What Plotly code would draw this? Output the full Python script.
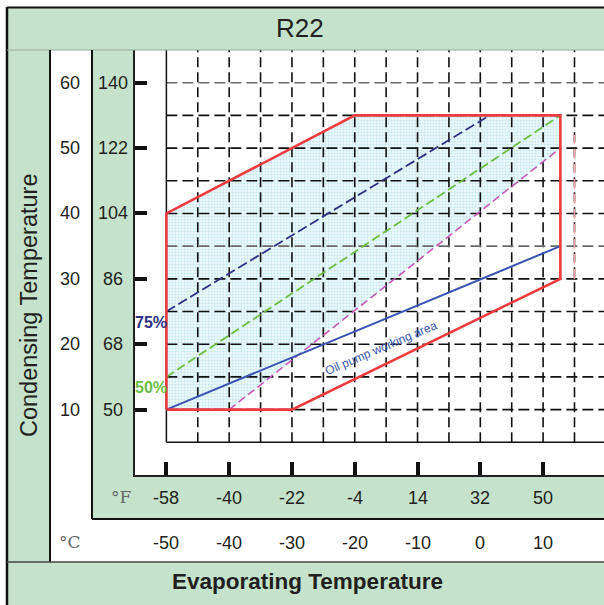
import plotly.graph_objects as go

W, H = 604, 605
FONT = "Liberation Sans, Arial, sans-serif"
TXT = "#231f20"
GREEN = "#c5e3cc"

# ---------------- data ----------------
evap_c_ticks = [-50, -40, -30, -20, -10, 0, 10]
evap_c_labels = ["-50", "-40", "-30", "-20", "-10", "0", "10"]
evap_f_labels = ["-58", "-40", "-22", "-4", "14", "32", "50"]
cond_c_ticks = [60, 50, 40, 30, 20, 10]
cond_c_labels = ["60", "50", "40", "30", "20", "10"]
cond_f_labels = ["140", "122", "104", "86", "68", "50"]

# operating envelope (red)
env_x = [-50, -30, 12.75, 12.75, -20, -50, -50]
env_y = [10, 10, 30, 55, 55, 40, 10]
# shaded area (left of magenta limit)
area_x = [-50, -40, 12.75, 12.75, -20, -50, -50]
area_y = [10, 10, 50, 55, 55, 40, 10]
# 75% line (navy dashed)
l75_x = [-50, 1.5]
l75_y = [25, 55]
# 50% line (green dashed)
l50_x = [-50, 12.75]
l50_y = [15, 55]
# magenta dashed limit
lim_x = [-40, 12.75]
lim_y = [10, 50]
# oil pump working area line (blue solid)
oil_x = [-50, 12.75]
oil_y = [10, 35]
# faint pink dashed segment at right
pink_x = [15, 15]
pink_y = [30, 52]

# grid
grid_vx = [-45, -40, -35, -30, -25, -20, -15, -10, -5, 0, 5, 10, 15]
grid_hy_black = [10, 15, 20, 25, 30, 40, 45, 50, 55]
grid_hy_gray = [35, 60]
X_MIN, X_MAX = -55, 19.7
Y_MIN, Y_MAX = 0, 65

def px(x):
    return x / W

def py(y):
    return 1 - y / H

fig = go.Figure()

# shaded area
fig.add_trace(go.Scatter(
    x=area_x, y=area_y, mode="lines", fill="toself",
    line=dict(width=0, color="rgba(0,0,0,0)"),
    fillcolor="#cdeef4",
    fillpattern=dict(shape=".", fgcolor="#8fd8e6", bgcolor="#eef9fb", size=3, solidity=0.35),
    hoverinfo="skip"))

# grid lines
def seg_lines_v(xs, y0, y1):
    X, Y = [], []
    for v in xs:
        X += [v, v, None]
        Y += [y0, y1, None]
    return X, Y

def seg_lines_h(ys, x0, x1):
    X, Y = [], []
    for v in ys:
        X += [x0, x1, None]
        Y += [v, v, None]
    return X, Y

vx, vy = seg_lines_v(grid_vx, 5, Y_MAX)
fig.add_trace(go.Scatter(x=vx, y=vy, mode="lines",
                         line=dict(color="#111111", width=1.6, dash="10px,5px"), hoverinfo="skip"))
hx, hy = seg_lines_h(grid_hy_black, -50, X_MAX)
fig.add_trace(go.Scatter(x=hx, y=hy, mode="lines",
                         line=dict(color="#111111", width=1.6, dash="11px,5px"), hoverinfo="skip"))
gx, gy = seg_lines_h(grid_hy_gray, -50, X_MAX)
fig.add_trace(go.Scatter(x=gx, y=gy, mode="lines",
                         line=dict(color="#6a6a6a", width=1.6, dash="11px,5px"), hoverinfo="skip"))
# solid frame of grid (left and bottom)
fig.add_trace(go.Scatter(x=[-50, -50, None, -50, X_MAX], y=[Y_MAX, 5, None, 5, 5], mode="lines",
                         line=dict(color="#111111", width=1.5), hoverinfo="skip"))

# colored lines
fig.add_trace(go.Scatter(x=lim_x, y=lim_y, mode="lines",
                         line=dict(color="#c45bb8", width=1.6, dash="8px,4px"), hoverinfo="skip"))
fig.add_trace(go.Scatter(x=l50_x, y=l50_y, mode="lines",
                         line=dict(color="#6cbf45", width=1.8, dash="9px,4px"), hoverinfo="skip"))
fig.add_trace(go.Scatter(x=l75_x, y=l75_y, mode="lines",
                         line=dict(color="#2e3182", width=1.8, dash="10px,4px"), hoverinfo="skip"))
fig.add_trace(go.Scatter(x=oil_x, y=oil_y, mode="lines",
                         line=dict(color="#3a55b0", width=2), hoverinfo="skip"))
fig.add_trace(go.Scatter(x=pink_x, y=pink_y, mode="lines",
                         line=dict(color="#f5a3a8", width=1.6, dash="10px,5px"), hoverinfo="skip"))
# red envelope
fig.add_trace(go.Scatter(x=env_x, y=env_y, mode="lines",
                         line=dict(color="#ee3a3f", width=2.6), hoverinfo="skip"))

shapes = []
def rect(x0, y0, x1, y1, color):
    shapes.append(dict(type="rect", xref="paper", yref="paper",
                       x0=px(x0), x1=px(x1), y0=py(y1), y1=py(y0),
                       fillcolor=color, line=dict(width=0), layer="below"))

def line(x0, y0, x1, y1, color="#111111", width=2):
    shapes.append(dict(type="line", xref="paper", yref="paper",
                       x0=px(x0), x1=px(x1), y0=py(y0), y1=py(y1),
                       line=dict(color=color, width=width), layer="above"))

rect(7, 8, 604, 50, GREEN)      # title band
rect(7, 50, 50, 562, GREEN)     # left label column
rect(92, 50, 135, 519, GREEN)   # fahrenheit column
rect(92, 475, 604, 519, GREEN)  # fahrenheit band
rect(7, 562, 604, 605, GREEN)   # bottom title band

line(7, 7, 7, 605, width=2.5)
line(7, 7.5, 604, 7.5, width=2)
line(7, 50, 604, 50, color="#9aa89e", width=1)
line(50, 50, 50, 562, width=2)
line(92, 50, 92, 519, width=2)
line(92, 519, 604, 519, width=2)
line(7, 562, 604, 562, color="#444444", width=1.5)

annotations = []
annotations.append(dict(text="R22", x=px(300), y=py(28), xref="paper", yref="paper",
                        showarrow=False, font=dict(family=FONT, size=26, color=TXT),
                        xanchor="center", yanchor="middle"))
annotations.append(dict(text="Condensing Temperature", x=px(29), y=py(306), xref="paper", yref="paper",
                        textangle=-90, showarrow=False, font=dict(family=FONT, size=23.5, color=TXT),
                        xanchor="center", yanchor="middle"))
annotations.append(dict(text="<b>Evaporating Temperature</b>", x=px(307), y=py(581), xref="paper", yref="paper",
                        showarrow=False, font=dict(family=FONT, size=22.5, color=TXT),
                        xanchor="center", yanchor="middle"))
for v, c, f in zip(cond_c_ticks, cond_c_labels, cond_f_labels):
    annotations.append(dict(text=c, x=px(69.5), y=v, xref="paper", yref="y", showarrow=False,
                            font=dict(family=FONT, size=18, color=TXT), xanchor="center", yanchor="middle"))
    annotations.append(dict(text=f, x=px(113), y=v, xref="paper", yref="y", showarrow=False,
                            font=dict(family=FONT, size=18, color=TXT), xanchor="center", yanchor="middle"))
for v, c, f in zip(evap_c_ticks, evap_c_labels, evap_f_labels):
    annotations.append(dict(text=f, x=v, y=py(498), xref="x", yref="paper", showarrow=False,
                            font=dict(family=FONT, size=18, color=TXT), xanchor="center", yanchor="middle"))
    annotations.append(dict(text=c, x=v, y=py(543), xref="x", yref="paper", showarrow=False,
                            font=dict(family=FONT, size=18, color=TXT), xanchor="center", yanchor="middle"))
annotations.append(dict(text="°F", x=px(121), y=py(497), xref="paper", yref="paper", showarrow=False,
                        font=dict(family="DejaVu Serif, serif", size=17, color="#666666"),
                        xanchor="center", yanchor="middle"))
annotations.append(dict(text="°C", x=px(70), y=py(542), xref="paper", yref="paper", showarrow=False,
                        font=dict(family="DejaVu Serif, serif", size=17, color="#666666"),
                        xanchor="center", yanchor="middle"))
annotations.append(dict(text="<b>75%</b>", x=px(151), y=py(322), xref="paper", yref="paper", showarrow=False,
                        font=dict(family=FONT, size=16, color="#2e3182"), xanchor="center", yanchor="middle"))
annotations.append(dict(text="<b>50%</b>", x=px(151), y=py(387), xref="paper", yref="paper", showarrow=False,
                        font=dict(family=FONT, size=16, color="#6cbf45"), xanchor="center", yanchor="middle"))
annotations.append(dict(text="Oil pump working area", x=-15.8, y=19.4, xref="x", yref="y", showarrow=False,
                        textangle=-23, font=dict(family=FONT, size=12, color="#3a55b0"),
                        xanchor="center", yanchor="middle"))

fig.update_layout(
    width=W, height=H,
    margin=dict(l=0, r=0, t=0, b=0),
    paper_bgcolor="white", plot_bgcolor="white",
    showlegend=False,
    shapes=shapes, annotations=annotations,
    xaxis=dict(domain=[px(135), 1], range=[X_MIN, X_MAX], showgrid=False, zeroline=False,
               showline=True, linecolor="#222222", linewidth=2,
               tickvals=evap_c_ticks, ticks="inside", ticklen=13, tickwidth=4, tickcolor="#111111",
               showticklabels=False, fixedrange=True),
    yaxis=dict(domain=[py(475), py(50)], range=[Y_MIN, Y_MAX], showgrid=False, zeroline=False,
               showline=True, linecolor="#222222", linewidth=2,
               tickvals=cond_c_ticks, ticks="inside", ticklen=12, tickwidth=4, tickcolor="#111111",
               showticklabels=False, fixedrange=True),
)

fig.write_html("out.html", config={"displayModeBar": False},
               post_script="document.body.style.margin='0px';document.body.style.overflow='hidden';")
